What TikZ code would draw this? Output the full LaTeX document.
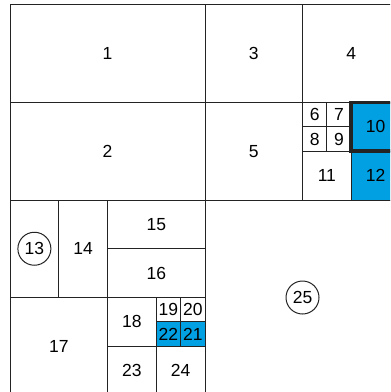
\documentclass[tikz,border=0pt]{standalone}
\usepackage{fontspec}
\setmainfont{Liberation Sans}
\definecolor{cellblue}{RGB}{0,160,226}
\definecolor{edgegray}{RGB}{35,35,35}

\begin{document}
\begin{tikzpicture}[x=97.5pt, y=-97.5pt, line width=1pt, draw=edgegray,
  lbl/.style={font=\fontsize{17.5}{19}\selectfont, inner sep=0pt},
  ring/.style={lbl, draw=edgegray, circle, minimum size=33pt, line width=1pt}]
  \useasboundingbox (-0.1026,-0.0513) rectangle (3.8974,3.9692);
  \clip (-0.1026,-0.0513) rectangle (3.8974,3.9692);

  % blue cells
  \fill[cellblue] (3.5,1) rectangle (4,2);
  \fill[cellblue] (1.5,3.25) rectangle (2,3.5);

  % large squares
  \draw (0,0) rectangle (2,1);
  \draw (2,0) rectangle (3,1);
  \draw (3,0) rectangle (4,1);
  \draw (0,1) rectangle (2,2);
  \draw (2,1) rectangle (3,2);
  \draw (2,2) rectangle (4,4);

  % upper right corner
  \draw (3,1) rectangle (3.5,1.5);
  \draw (3.25,1) -- (3.25,1.5);
  \draw (3,1.25) -- (3.5,1.25);
  \draw (3,1.5) rectangle (3.5,2);
  \draw (3.5,1.5) rectangle (4,2);

  % lower left block
  \draw (0,2) rectangle (0.5,3);
  \draw (0.5,2) rectangle (1,3);
  \draw (1,2) rectangle (2,2.5);
  \draw (1,2.5) rectangle (2,3);
  \draw (0,3) rectangle (1,4);
  \draw (1,3) rectangle (1.5,3.5);
  \draw (1.5,3) rectangle (2,3.5);
  \draw (1.75,3) -- (1.75,3.5);
  \draw (1.5,3.25) -- (2,3.25);
  \draw (1,3.5) rectangle (1.5,4);
  \draw (1.5,3.5) rectangle (2,4);

  \draw[line width=3.6pt] (3.5,1) rectangle (4,1.5);

  \node[lbl] (n1) at (1,0.5) {1};
  \node[lbl] (n2) at (1,1.5) {2};
  \node[lbl] (n3) at (2.5,0.5) {3};
  \node[lbl] (n4) at (3.5,0.5) {4};
  \node[lbl] (n5) at (2.5,1.5) {5};
  \node[lbl] (n6) at (3.125,1.125) {6};
  \node[lbl] (n7) at (3.375,1.125) {7};
  \node[lbl] (n8) at (3.125,1.375) {8};
  \node[lbl] (n9) at (3.375,1.375) {9};
  \node[lbl] (n10) at (3.75,1.25) {10};
  \node[lbl] (n11) at (3.25,1.75) {11};
  \node[lbl] (n12) at (3.75,1.75) {12};
  \node[ring] (n13) at (0.25,2.5) {13};
  \node[lbl] (n14) at (0.75,2.5) {14};
  \node[lbl] (n15) at (1.5,2.25) {15};
  \node[lbl] (n16) at (1.5,2.75) {16};
  \node[lbl] (n17) at (0.5,3.5) {17};
  \node[lbl] (n18) at (1.25,3.25) {18};
  \node[lbl] (n19) at (1.625,3.125) {19};
  \node[lbl] (n20) at (1.875,3.125) {20};
  \node[lbl] (n22) at (1.625,3.375) {22};
  \node[lbl] (n21) at (1.875,3.375) {21};
  \node[lbl] (n23) at (1.25,3.75) {23};
  \node[lbl] (n24) at (1.75,3.75) {24};
  \node[ring] (n25) at (3,3) {25};
\end{tikzpicture}
\end{document}
